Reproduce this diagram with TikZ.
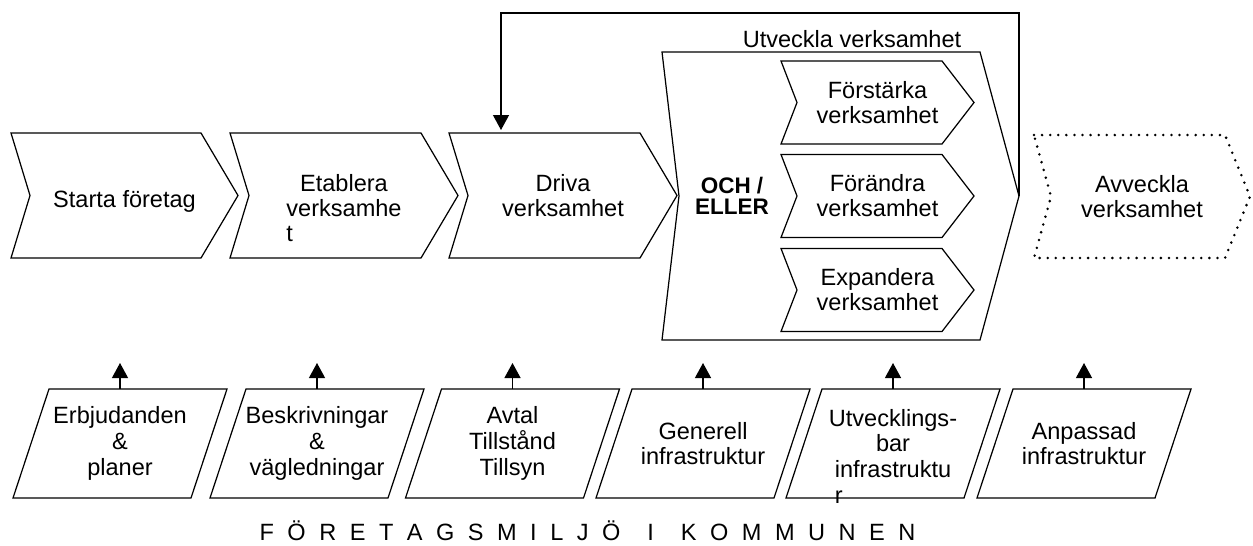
\documentclass[tikz,border=0pt]{standalone}
\usepackage{fontspec}
\setmainfont{Liberation Sans}
\usetikzlibrary{arrows.meta,calc}
\newcommand\pxu{0.02cm}
\newcommand\ls{\hspace{0.27cm}}
\newcommand\ws{\hspace{0.54cm}}
% chevron outline from a rectangular node: [style]{name}{notch}{tip}
\newcommand\chevpath[4][outl]{\draw[#1] (#2.north west) -- ($(#2.north east)+(-#4,0)$) -- (#2.east) -- ($(#2.south east)+(-#4,0)$) -- (#2.south west) -- ($(#2.west)+(#3,0)$) -- cycle;}
% parallelogram outline: {name}{slant}
\newcommand\parapath[2]{\draw[outl] ($(#1.north west)+(#2,0)$) -- (#1.north east) -- ($(#1.south east)+(-#2,0)$) -- (#1.south west) -- cycle;}
\begin{document}
\begin{tikzpicture}[x=0.02cm, y=-0.02cm,
  outl/.style={draw=black, line width=0.7pt, line join=miter},
  dots/.style={draw=black, line width=1.6pt, line cap=round, dash pattern=on 0pt off 4.6pt},
  txt/.style={inner sep=0pt, outer sep=0pt, align=center, font=\fontsize{13.4}{14.2}\selectfont},
  chev/.style={txt, minimum width=228*\pxu, minimum height=125*\pxu},
  inchev/.style={txt, minimum width=193*\pxu, minimum height=83*\pxu},
  para/.style={inner sep=0pt, outer sep=0pt, align=center, font=\fontsize{13.4}{14.6}\selectfont, minimum width=214*\pxu, minimum height=109*\pxu},
  arr/.style={line width=0.7pt, -{Triangle[length=0.3cm, width=0.32cm]}},
]
\useasboundingbox (0,0) rectangle (1253,545);

% top process chevrons
\node[chev, minimum width=227*\pxu] (c1) at (124.5,195.5) {\raisebox{-0.23cm}[0pt][0pt]{Starta företag}};
\chevpath{c1}{19}{37}
\node[chev] (c2) at (344,195.5) {Etablera\\\rlap{\raisebox{-14.2pt}[0pt][0pt]{t}}verksamhe};
\chevpath{c2}{19}{37}
\node[chev] (drv) at (563,195.5) {Driva\\verksamhet};
\chevpath{drv}{19}{37}

% big block
\node[txt, minimum width=357*\pxu, minimum height=288*\pxu] (big) at (840.5,196) {};
\chevpath{big}{17}{39}
\node[txt, anchor=base] (utl) at (852,47) {Utveckla verksamhet};
\node[inner sep=0pt, align=center, font=\bfseries\fontsize{12.8}{12}\selectfont] (oe) at (732,196) {OCH /\\ELLER};

\node[inchev] (i1) at (877.5,102.5) {Förstärka\\verksamhet};
\chevpath{i1}{16}{32}
\node[inchev] (i2) at (877.5,196) {Förändra\\verksamhet};
\chevpath{i2}{16}{32}
\node[inchev] (i3) at (877.5,290) {Expandera\\verksamhet};
\chevpath{i3}{16}{32}

% dotted chevron
\node[txt, minimum width=216*\pxu, minimum height=123*\pxu] (avv) at (1142,196.5) {Avveckla\\verksamhet};
\chevpath[dots]{avv}{17}{25}

% feedback arrow
\coordinate (fb) at ($(drv.north west)+(52,0)$);
\draw[arr, shorten >=0.06cm] (big.east) -- ++(0,-183) -| (fb);

% bottom parallelograms
\node[para] (p1) at (120,443.5) {Erbjudanden\\\&\\planer};
\node[para] (p2) at (317,443.5) {Beskrivningar\\\&\\vägledningar};
\node[para] (p3) at (512.5,443.5) {Avtal\\Tillstånd\\Tillsyn};
\node[para] (p4) at (703,443.5) {Generell\\infrastruktur};
\node[para] (p5) at (893,443.5) {Utvecklings-\\bar\\\rlap{\raisebox{-14.6pt}[0pt][0pt]{r}}infrastruktu};
\node[para] (p6) at (1084,443.5) {Anpassad\\infrastruktur};
\foreach \n in {p1,p2,p3,p4,p5,p6} {
  \parapath{\n}{36}
  \coordinate (\n a) at ($(\n.north)+(0,-26)$);
  \draw[arr] (\n.north) -- (\n a);
}

\node[anchor=base, inner sep=0pt, font=\fontsize{13.4}{14}\selectfont] (ftr) at (587.5,540)
  {F\ls Ö\ls R\ls E\ls T\ls A\ls G\ls S\ls M\ls I\ls L\ls J\ls Ö\ws I\ws K\ls O\ls M\ls M\ls U\ls N\ls E\ls N};
\end{tikzpicture}
\end{document}
